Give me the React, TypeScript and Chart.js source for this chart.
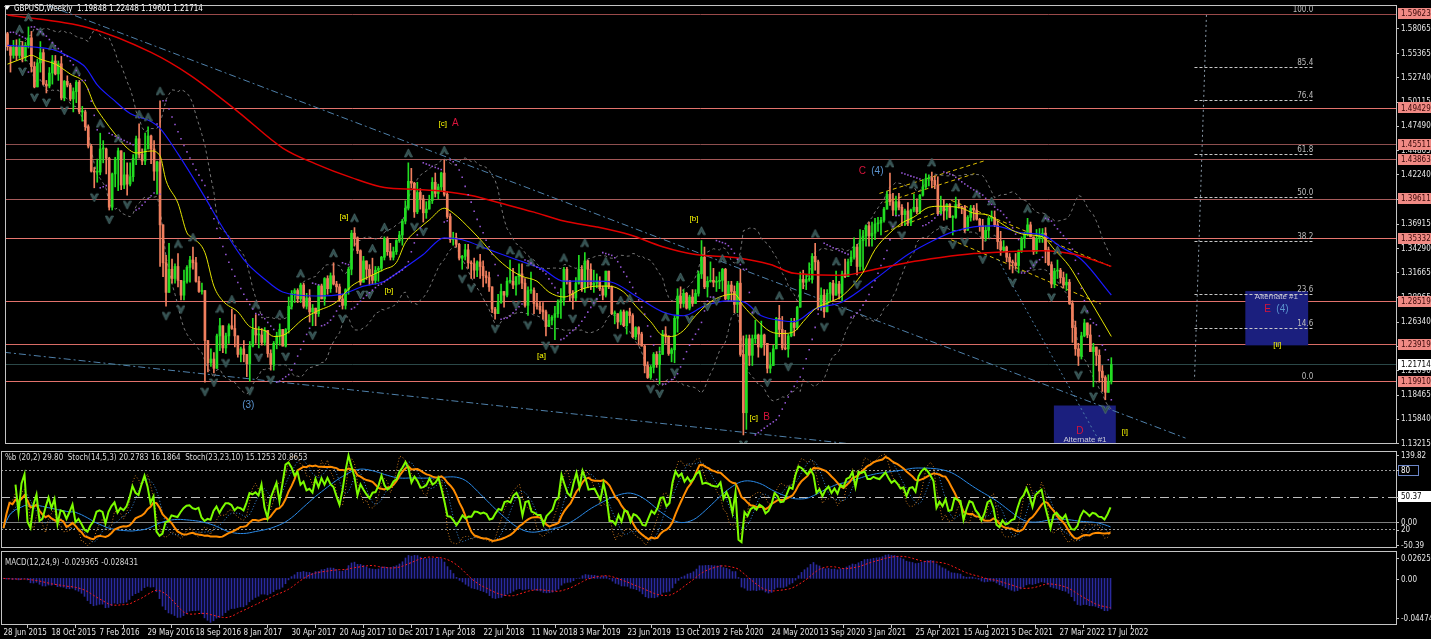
import React, { useEffect, useRef } from 'react';
import { Chart, registerables } from 'chart.js';

Chart.register(...registerables);

const NARROW = "'Liberation Sans Narrow', 'DejaVu Sans Condensed', 'Liberation Sans', Arial, sans-serif";
const SANS = "'Liberation Sans', 'DejaVu Sans', Arial, sans-serif";

// ---------------- DATA ----------------
const dateLabels = ['28 Jun 2015', '18 Oct 2015', '7 Feb 2016', '29 May 2016', '18 Sep 2016', '8 Jan 2017', '30 Apr 2017', '20 Aug 2017', '10 Dec 2017', '1 Apr 2018', '22 Jul 2018', '11 Nov 2018', '3 Mar 2019', '23 Jun 2019', '13 Oct 2019', '2 Feb 2020', '24 May 2020', '13 Sep 2020', '3 Jan 2021', '25 Apr 2021', '15 Aug 2021', '5 Dec 2021', '27 Mar 2022', '17 Jul 2022'];
const dateTickWeeks = [0, 16, 32, 48, 64, 80, 96, 112, 128, 144, 160, 176, 192, 208, 224, 240, 256, 272, 288, 304, 320, 336, 352, 368];

const firstOpen = 1.5745;
const closes = [
  1.5605, 1.5511, 1.5600, 1.5510, 1.5613, 1.5490, 1.5620, 1.5700, 1.5390, 1.5170,
  1.5430, 1.5540, 1.5200, 1.5180, 1.5320, 1.5450, 1.5310, 1.5420, 1.5050, 1.5230,
  1.5190, 1.5040, 1.5120, 1.5220, 1.4900, 1.4900, 1.4740, 1.4530, 1.4260, 1.4250,
  1.4250, 1.4500, 1.4500, 1.4400, 1.3870, 1.4230, 1.4390, 1.4480, 1.4110, 1.4220,
  1.4120, 1.4200, 1.4400, 1.4610, 1.4440, 1.4370, 1.4500, 1.4640, 1.4500, 1.4260,
  1.4360, 1.3680, 1.3270, 1.2950, 1.3200, 1.3100, 1.3230, 1.3080, 1.2920, 1.3070,
  1.3220, 1.3300, 1.3270, 1.3070, 1.2960, 1.2970, 1.2430, 1.2190, 1.2230, 1.2130,
  1.2480, 1.2590, 1.2350, 1.2480, 1.2590, 1.2560, 1.2480, 1.2280, 1.2340, 1.2280,
  1.2180, 1.2370, 1.2550, 1.2490, 1.2490, 1.2410, 1.2540, 1.2290, 1.2170, 1.2400,
  1.2480, 1.2550, 1.2370, 1.2550, 1.2800, 1.2940, 1.2970, 1.2880, 1.3030, 1.2800,
  1.2890, 1.2740, 1.2780, 1.2720, 1.3020, 1.2880, 1.3100, 1.2990, 1.3130, 1.3040,
  1.3010, 1.2880, 1.2810, 1.2980, 1.3200, 1.3590, 1.3540, 1.3400, 1.3060, 1.3290,
  1.3200, 1.3130, 1.3080, 1.3190, 1.3210, 1.3330, 1.3530, 1.3390, 1.3330, 1.3390,
  1.3510, 1.3570, 1.3720, 1.3860, 1.4150, 1.4130, 1.3820, 1.4030, 1.3960, 1.3810,
  1.3850, 1.3940, 1.4140, 1.4020, 1.4090, 1.4240, 1.4010, 1.3770, 1.3520, 1.3540,
  1.3470, 1.3320, 1.3340, 1.3410, 1.3270, 1.3260, 1.3190, 1.3280, 1.3230, 1.3130,
  1.3110, 1.3010, 1.2770, 1.2720, 1.2840, 1.2960, 1.2920, 1.3070, 1.3070, 1.3030,
  1.3120, 1.3150, 1.3050, 1.2810, 1.2970, 1.2970, 1.2830, 1.2800, 1.2760, 1.2740,
  1.2580, 1.2650, 1.2680, 1.2720, 1.2840, 1.2870, 1.3200, 1.3070, 1.2940, 1.2890,
  1.3050, 1.3200, 1.3000, 1.3290, 1.3200, 1.3030, 1.3050, 1.3070, 1.2990, 1.2920,
  1.3180, 1.3010, 1.2720, 1.2720, 1.2630, 1.2740, 1.2590, 1.2740, 1.2700, 1.2470,
  1.2570, 1.2500, 1.2370, 1.2160, 1.2030, 1.2140, 1.2280, 1.2170, 1.2280, 1.2500,
  1.2480, 1.2290, 1.2330, 1.2670, 1.2910, 1.2830, 1.2940, 1.2780, 1.2900, 1.2830,
  1.2940, 1.3150, 1.3330, 1.3010, 1.3070, 1.3080, 1.3060, 1.3070, 1.3080, 1.3200,
  1.2880, 1.3030, 1.2960, 1.2820, 1.3050, 1.2280, 1.1650, 1.2450, 1.2270, 1.2450,
  1.2490, 1.2360, 1.2490, 1.2400, 1.2130, 1.2160, 1.2340, 1.2670, 1.2550, 1.2350,
  1.2340, 1.2480, 1.2620, 1.2570, 1.2790, 1.3090, 1.3060, 1.3090, 1.3090, 1.3340,
  1.3280, 1.2790, 1.2920, 1.2740, 1.2940, 1.3050, 1.2920, 1.3040, 1.2940, 1.3150,
  1.3120, 1.3280, 1.3330, 1.3440, 1.3230, 1.3510, 1.3560, 1.3670, 1.3560, 1.3590,
  1.3690, 1.3700, 1.3730, 1.3850, 1.4010, 1.3930, 1.3840, 1.3930, 1.3870, 1.3790,
  1.3830, 1.3700, 1.3840, 1.3870, 1.3820, 1.4000, 1.4090, 1.4180, 1.4190, 1.4160,
  1.4110, 1.3800, 1.3880, 1.3830, 1.3900, 1.3760, 1.3760, 1.3900, 1.3880, 1.3870,
  1.3620, 1.3760, 1.3860, 1.3840, 1.3740, 1.3670, 1.3540, 1.3620, 1.3750, 1.3760,
  1.3680, 1.3500, 1.3410, 1.3440, 1.3330, 1.3280, 1.3270, 1.3240, 1.3400, 1.3530,
  1.3580, 1.3680, 1.3550, 1.3390, 1.3530, 1.3560, 1.3590, 1.3410, 1.3250, 1.3040,
  1.3180, 1.3190, 1.3110, 1.3030, 1.3060, 1.2830, 1.2570, 1.2340, 1.2260, 1.2480,
  1.2620, 1.2490, 1.2310, 1.2360, 1.2270, 1.2100, 1.2030, 1.1870, 1.19848, 1.21714,
];
const highs = [
  1.5760, 1.5580, 1.5673, 1.5680, 1.5690, 1.5660, 1.5650, 1.5818, 1.5770, 1.5440,
  1.5470, 1.5660, 1.5580, 1.5240, 1.5380, 1.5510, 1.5510, 1.5450, 1.5500, 1.5240,
  1.5290, 1.5210, 1.5160, 1.5240, 1.5240, 1.4960, 1.4920, 1.4760, 1.4550, 1.4300,
  1.4390, 1.4670, 1.4590, 1.4510, 1.4410, 1.4240, 1.4410, 1.4510, 1.4460, 1.4460,
  1.4350, 1.4350, 1.4440, 1.4640, 1.4770, 1.4500, 1.4670, 1.4740, 1.4650, 1.4590,
  1.4370, 1.5020, 1.3500, 1.3350, 1.3480, 1.3310, 1.3260, 1.3370, 1.3080, 1.3190,
  1.3240, 1.3340, 1.3440, 1.3330, 1.3120, 1.3050, 1.2970, 1.2390, 1.2340, 1.2300,
  1.2500, 1.2670, 1.2550, 1.2510, 1.2610, 1.2770, 1.2710, 1.2480, 1.2360, 1.2430,
  1.2280, 1.2420, 1.2670, 1.2710, 1.2580, 1.2560, 1.2570, 1.2490, 1.2330, 1.2420,
  1.2520, 1.2610, 1.2550, 1.2560, 1.2900, 1.2970, 1.2990, 1.2990, 1.3050, 1.3050,
  1.2940, 1.2980, 1.2820, 1.2750, 1.3030, 1.3040, 1.3110, 1.3130, 1.3160, 1.3270,
  1.3070, 1.3040, 1.2930, 1.2990, 1.3220, 1.3620, 1.3650, 1.3550, 1.3410, 1.3340,
  1.3260, 1.3250, 1.3320, 1.3230, 1.3230, 1.3340, 1.3550, 1.3550, 1.3480, 1.3440,
  1.3520, 1.3610, 1.3740, 1.3940, 1.4350, 1.4290, 1.4140, 1.4140, 1.4070, 1.4000,
  1.3930, 1.4000, 1.4190, 1.4240, 1.4120, 1.4250, 1.4380, 1.4040, 1.3800, 1.3600,
  1.3590, 1.3480, 1.3350, 1.3470, 1.3470, 1.3290, 1.3320, 1.3290, 1.3360, 1.3290,
  1.3180, 1.3170, 1.3000, 1.2790, 1.2930, 1.3040, 1.2950, 1.3110, 1.3300, 1.3210,
  1.3120, 1.3260, 1.3260, 1.3100, 1.3010, 1.3170, 1.3000, 1.2940, 1.2850, 1.2840,
  1.2760, 1.2710, 1.2700, 1.2800, 1.2870, 1.2990, 1.3220, 1.3220, 1.3080, 1.2970,
  1.3110, 1.3350, 1.3240, 1.3380, 1.3300, 1.3260, 1.3190, 1.3150, 1.3120, 1.3020,
  1.3180, 1.3170, 1.3020, 1.2750, 1.2710, 1.2760, 1.2760, 1.2750, 1.2780, 1.2720,
  1.2580, 1.2580, 1.2520, 1.2380, 1.2200, 1.2160, 1.2300, 1.2310, 1.2360, 1.2540,
  1.2580, 1.2480, 1.2350, 1.2700, 1.2990, 1.3010, 1.2980, 1.2950, 1.2920, 1.2980,
  1.2980, 1.3180, 1.3510, 1.3440, 1.3120, 1.3280, 1.3210, 1.3120, 1.3170, 1.3210,
  1.3210, 1.3070, 1.3070, 1.3020, 1.3070, 1.3200, 1.2480, 1.2490, 1.2490, 1.2490,
  1.2650, 1.2500, 1.2640, 1.2500, 1.2380, 1.2300, 1.2380, 1.2680, 1.2810, 1.2690,
  1.2540, 1.2500, 1.2670, 1.2670, 1.2800, 1.3170, 1.3190, 1.3140, 1.3270, 1.3370,
  1.3480, 1.3300, 1.3000, 1.2980, 1.2980, 1.3060, 1.3080, 1.3180, 1.3070, 1.3180,
  1.3310, 1.3310, 1.3400, 1.3540, 1.3470, 1.3630, 1.3620, 1.3680, 1.3710, 1.3710,
  1.3750, 1.3760, 1.3760, 1.3870, 1.4040, 1.4240, 1.4020, 1.3990, 1.4020, 1.3900,
  1.3850, 1.3920, 1.3850, 1.4010, 1.3960, 1.4010, 1.4170, 1.4230, 1.4220, 1.4250,
  1.4210, 1.4200, 1.3990, 1.3950, 1.3910, 1.3910, 1.3780, 1.3980, 1.3950, 1.3880,
  1.3890, 1.3780, 1.3890, 1.3890, 1.3910, 1.3750, 1.3740, 1.3670, 1.3770, 1.3830,
  1.3830, 1.3720, 1.3610, 1.3510, 1.3450, 1.3370, 1.3300, 1.3370, 1.3410, 1.3550,
  1.3600, 1.3750, 1.3710, 1.3550, 1.3630, 1.3640, 1.3640, 1.3650, 1.3440, 1.3280,
  1.3210, 1.3300, 1.3210, 1.3170, 1.3150, 1.3090, 1.2860, 1.2640, 1.2400, 1.2520,
  1.2660, 1.2600, 1.2600, 1.2400, 1.2330, 1.2330, 1.2160, 1.2050, 1.2060, 1.22448,
];
const lows = [
  1.5565, 1.5330, 1.5480, 1.5460, 1.5480, 1.5440, 1.5450, 1.5590, 1.5330, 1.5160,
  1.5170, 1.5330, 1.5190, 1.5105, 1.5160, 1.5200, 1.5300, 1.5240, 1.5030, 1.5020,
  1.5170, 1.5020, 1.4900, 1.5000, 1.4880, 1.4800, 1.4700, 1.4510, 1.4250, 1.4080,
  1.4140, 1.4220, 1.4350, 1.4230, 1.3840, 1.3840, 1.4090, 1.4050, 1.4060, 1.4070,
  1.4000, 1.4100, 1.4150, 1.4330, 1.4400, 1.4330, 1.4330, 1.4500, 1.4340, 1.4160,
  1.4010, 1.3230, 1.3120, 1.2800, 1.2950, 1.3050, 1.3050, 1.3010, 1.2870, 1.2870,
  1.3050, 1.3060, 1.3200, 1.3060, 1.2950, 1.2930, 1.1980, 1.2090, 1.2150, 1.2080,
  1.2130, 1.2320, 1.2300, 1.2290, 1.2400, 1.2550, 1.2360, 1.2250, 1.2200, 1.2200,
  1.2040, 1.1990, 1.2360, 1.2400, 1.2350, 1.2380, 1.2380, 1.2250, 1.2110, 1.2110,
  1.2340, 1.2380, 1.2370, 1.2360, 1.2510, 1.2770, 1.2840, 1.2840, 1.2840, 1.2780,
  1.2770, 1.2630, 1.2590, 1.2590, 1.2690, 1.2880, 1.2810, 1.2930, 1.2950, 1.3030,
  1.2950, 1.2850, 1.2770, 1.2770, 1.2930, 1.3140, 1.3450, 1.3370, 1.3030, 1.3070,
  1.3090, 1.3030, 1.3040, 1.3040, 1.3070, 1.3180, 1.3300, 1.3350, 1.3300, 1.3300,
  1.3360, 1.3490, 1.3460, 1.3690, 1.3840, 1.4080, 1.3760, 1.3800, 1.3850, 1.3710,
  1.3750, 1.3850, 1.3910, 1.3980, 1.3960, 1.4050, 1.3990, 1.3750, 1.3490, 1.3460,
  1.3440, 1.3300, 1.3200, 1.3300, 1.3210, 1.3100, 1.3100, 1.3120, 1.3100, 1.3010,
  1.3050, 1.2960, 1.2730, 1.2660, 1.2770, 1.2830, 1.2790, 1.2900, 1.3050, 1.2990,
  1.2920, 1.3040, 1.2990, 1.2790, 1.2700, 1.2940, 1.2720, 1.2770, 1.2720, 1.2660,
  1.2480, 1.2580, 1.2600, 1.2440, 1.2680, 1.2670, 1.2810, 1.3040, 1.2860, 1.2770,
  1.2860, 1.3040, 1.2960, 1.2950, 1.3000, 1.2980, 1.2950, 1.3000, 1.2970, 1.2870,
  1.2900, 1.2990, 1.2710, 1.2610, 1.2560, 1.2600, 1.2580, 1.2500, 1.2620, 1.2460,
  1.2440, 1.2380, 1.2370, 1.2080, 1.2020, 1.2010, 1.2080, 1.2140, 1.1960, 1.2280,
  1.2400, 1.2270, 1.2200, 1.2190, 1.2520, 1.2780, 1.2790, 1.2770, 1.2760, 1.2800,
  1.2830, 1.2910, 1.3100, 1.2990, 1.2900, 1.3060, 1.3010, 1.2960, 1.2990, 1.2960,
  1.2870, 1.2860, 1.2850, 1.2730, 1.2730, 1.2260, 1.1410, 1.1470, 1.2160, 1.2160,
  1.2400, 1.2250, 1.2350, 1.2270, 1.2080, 1.2080, 1.2160, 1.2340, 1.2470, 1.2330,
  1.2330, 1.2250, 1.2470, 1.2480, 1.2550, 1.2790, 1.2990, 1.2980, 1.3070, 1.3050,
  1.3190, 1.2760, 1.2760, 1.2680, 1.2750, 1.2850, 1.2860, 1.2920, 1.2880, 1.2850,
  1.3110, 1.3150, 1.3240, 1.3310, 1.3140, 1.3190, 1.3190, 1.3450, 1.3450, 1.3450,
  1.3520, 1.3610, 1.3570, 1.3710, 1.3850, 1.3890, 1.3780, 1.3780, 1.3840, 1.3670,
  1.3670, 1.3670, 1.3670, 1.3820, 1.3800, 1.3800, 1.3990, 1.4070, 1.4100, 1.4080,
  1.4070, 1.3790, 1.3800, 1.3730, 1.3740, 1.3760, 1.3570, 1.3750, 1.3860, 1.3800,
  1.3600, 1.3620, 1.3720, 1.3730, 1.3730, 1.3610, 1.3410, 1.3510, 1.3540, 1.3720,
  1.3660, 1.3420, 1.3350, 1.3390, 1.3280, 1.3200, 1.3160, 1.3200, 1.3160, 1.3380,
  1.3430, 1.3560, 1.3550, 1.3360, 1.3370, 1.3490, 1.3490, 1.3270, 1.3240, 1.3000,
  1.3000, 1.3100, 1.3050, 1.3000, 1.2970, 1.2820, 1.2410, 1.2270, 1.2160, 1.2230,
  1.2470, 1.2460, 1.2310, 1.1930, 1.2160, 1.1980, 1.1880, 1.1790, 1.1880, 1.19601,
];

// moving averages (week index, price)
const redMaWeeks = [0, 27, 48, 61, 77, 92, 103, 115, 126, 137, 146, 155, 165, 176, 186, 197, 208, 219, 230, 243, 255, 263, 279, 290, 301, 312, 323, 335, 346, 357, 369];
const redMaValues = [1.5948, 1.5810, 1.5543, 1.5298, 1.4904, 1.4510, 1.4339, 1.4190, 1.4083, 1.4062, 1.4041, 1.3998, 1.3913, 1.3817, 1.3721, 1.3657, 1.3572, 1.3444, 1.3359, 1.3327, 1.3252, 1.3156, 1.3135, 1.3199, 1.3273, 1.3327, 1.3369, 1.3391, 1.3401, 1.3359, 1.3231];
const blueMaWeeks = [0, 10, 16, 21, 26, 30, 35, 41, 48, 51, 57, 66, 71, 79, 86, 92, 103, 112, 119, 126, 132, 139, 146, 152, 161, 170, 179, 186, 197, 202, 210, 219, 226, 233, 241, 246, 252, 259, 263, 270, 279, 290, 301, 310, 316, 323, 330, 339, 346, 352, 359, 369];
const blueMaValues = [1.5618, 1.5597, 1.5565, 1.5490, 1.5384, 1.5192, 1.5043, 1.4883, 1.4797, 1.4723, 1.4446, 1.3977, 1.3700, 1.3305, 1.3092, 1.2954, 1.2911, 1.2932, 1.3018, 1.3071, 1.3199, 1.3359, 1.3540, 1.3519, 1.3412, 1.3305, 1.3199, 1.3071, 1.3071, 1.3060, 1.2911, 1.2740, 1.2698, 1.2804, 1.2858, 1.2847, 1.2698, 1.2644, 1.2634, 1.2772, 1.2847, 1.3092, 1.3359, 1.3519, 1.3604, 1.3657, 1.3668, 1.3593, 1.3572, 1.3444, 1.3305, 1.2922];
const yellowMaWeeks = [0, 6, 8, 11, 16, 21, 26, 29, 32, 36, 40, 43, 48, 51, 53, 57, 60, 62, 66, 69, 72, 77, 81, 86, 89, 92, 99, 103, 110, 115, 119, 126, 130, 133, 137, 141, 146, 149, 155, 159, 163, 168, 172, 177, 181, 186, 192, 197, 201, 206, 210, 215, 219, 222, 226, 230, 235, 239, 243, 246, 250, 255, 259, 263, 266, 270, 275, 279, 286, 290, 295, 299, 303, 308, 312, 319, 323, 328, 332, 337, 341, 346, 350, 355, 359, 363, 369];
const yellowMaValues = [1.5416, 1.5490, 1.5512, 1.5469, 1.5416, 1.5309, 1.5202, 1.4979, 1.4829, 1.4659, 1.4510, 1.4456, 1.4478, 1.4424, 1.4158, 1.3913, 1.3593, 1.3540, 1.3380, 1.3018, 1.2858, 1.2740, 1.2581, 1.2538, 1.2474, 1.2485, 1.2666, 1.2740, 1.2847, 1.3018, 1.3092, 1.3199, 1.3273, 1.3487, 1.3625, 1.3732, 1.3860, 1.3806, 1.3625, 1.3487, 1.3337, 1.3199, 1.3124, 1.3071, 1.2954, 1.2900, 1.2986, 1.3018, 1.3018, 1.2954, 1.2804, 1.2634, 1.2485, 1.2474, 1.2538, 1.2698, 1.2847, 1.2911, 1.2932, 1.2804, 1.2666, 1.2527, 1.2506, 1.2527, 1.2634, 1.2772, 1.2847, 1.2911, 1.3167, 1.3412, 1.3593, 1.3700, 1.3764, 1.3870, 1.3881, 1.3860, 1.3806, 1.3785, 1.3700, 1.3604, 1.3572, 1.3551, 1.3412, 1.3231, 1.3018, 1.2804, 1.2474];

const priceTicks = [1.58065, 1.55365, 1.5274, 1.50115, 1.4749, 1.44865, 1.4224, 1.39615, 1.36915, 1.3429, 1.31665, 1.28965, 1.2634, 1.23715, 1.2109, 1.18465, 1.1584, 1.13215];
const levelPrices = [1.59623, 1.49429, 1.45511, 1.43863, 1.39611, 1.35332, 1.28519, 1.23919, 1.1991];
const levelColors = ['#9a4a4a', '#e2736d', '#8e4f4f', '#a45858', '#a85c5c', '#e8766f', '#e2726c', '#d86c66', '#e2726c'];
const lastPrice = 1.21714;

const fibLow = 1.1991;
const fibHigh = 1.59623;
const fibLevels = [0, 14.6, 23.6, 38.2, 50, 61.8, 76.4, 85.4, 100];

// trend / channel lines: [week0, price0, week1, price1]
const blueTrendLines = [
  [13.2, 1.6055, 393.8, 1.13761],
  [-1.17, 1.23034, 282.2, 1.13122],
];
const steepDottedLine = [331.2, 1.33052, 365.5, 1.13122];
const yellowChannel = [
  [291.5, 1.40193, 326.5, 1.4371],
  [293.2, 1.39234, 323.2, 1.42325],
  [293.2, 1.36036, 315.5, 1.38701],
  [315.5, 1.39447, 368.8, 1.32306],
  [315.5, 1.35184, 365.5, 1.28256],
];
const fibTrendLine = [400.8, 1.5948, 396.8, 1.2005];

const YELLOW = '#ffff00';
const CRIMSON = '#d8143c';
const STEEL = '#5a93cf';
const notes = [
  { w: 145.5, p: 1.4776, t: '[c]', c: YELLOW, s: 8 },
  { w: 149.7, p: 1.4776, t: 'A', c: CRIMSON, s: 10 },
  { w: 112.5, p: 1.3764, t: '[a]', c: YELLOW, s: 8 },
  { w: 127.5, p: 1.2964, t: '[b]', c: YELLOW, s: 8 },
  { w: 178.5, p: 1.2261, t: '[a]', c: YELLOW, s: 8 },
  { w: 229.5, p: 1.3742, t: '[b]', c: YELLOW, s: 8 },
  { w: 249.5, p: 1.16, t: '[c]', c: YELLOW, s: 8 },
  { w: 253.8, p: 1.16, t: 'B', c: CRIMSON, s: 10 },
  { w: 285.8, p: 1.4254, t: 'C', c: CRIMSON, s: 10 },
  { w: 290.8, p: 1.4254, t: '(4)', c: STEEL, s: 10 },
  { w: 80.5, p: 1.1728, t: '(3)', c: STEEL, s: 10 },
  { w: 424.5, p: 1.2386, t: '[ii]', c: YELLOW, s: 8 },
  { w: 373.5, p: 1.144, t: '[i]', c: YELLOW, s: 8 },
  { w: 424.2, p: 1.2905, t: 'Alternate #1', c: '#c8c8d8', s: 8 },
  { w: 421.2, p: 1.2767, t: 'E', c: CRIMSON, s: 10 },
  { w: 426.2, p: 1.2767, t: '(4)', c: STEEL, s: 10 },
  { w: 358.5, p: 1.145, t: 'D', c: CRIMSON, s: 10 },
  { w: 360.2, p: 1.1354, t: 'Alternate #1', c: '#c8c8d8', s: 8 },
];
// boxes: [week0, price0, week1, price1]
const navyBoxes = [
  [413.8, 1.29641, 434.8, 1.23779],
  [349.8, 1.1728, 370.5, 1.128],
];

const headerText = 'GBPUSD,Weekly  1.19848 1.22448 1.19601 1.21714';
const oscText = '%b (20,2) 29.80  Stoch(14,5,3) 20.2783 16.1864  Stoch(23,23,10) 15.1253 20.8653';
const macdText = 'MACD(12,24,9) -0.029365 -0.028431';

// ---------------- LAYOUT CONSTANTS ----------------
const X_MIN = -0.8333;
const X_MAX = 464.1667;
const P_MIN = 1.13122;
const P_MAX = 1.6055;
const B_MIN = -50.39;
const B_MAX = 139.82;
const M_MIN = -0.044743;
const M_MAX = 0.026251;

const UP = '#22dd22';
const DOWN = '#f07f5e';

// ---------------- INDICATORS (computed from the price arrays) ----------------
function prepared() {
  const opens = closes.map((c, i) => (i === 0 ? firstOpen : closes[i - 1]));
  const hi = highs.map((h, i) => Math.max(h, opens[i], closes[i]));
  const lo = lows.map((l, i) => Math.min(l, opens[i], closes[i]));
  return { opens, hi, lo };
}

function bollinger(period: number, mult: number, minCount: number) {
  const up: (number | null)[] = [];
  const dn: (number | null)[] = [];
  const pb: (number | null)[] = [];
  for (let i = 0; i < closes.length; i++) {
    const s = Math.max(0, i - period + 1);
    const win = closes.slice(s, i + 1);
    if (win.length < minCount) { up.push(null); dn.push(null); pb.push(null); continue; }
    const m = win.reduce((a, b) => a + b, 0) / win.length;
    const sd = Math.sqrt(win.reduce((a, b) => a + (b - m) * (b - m), 0) / win.length);
    up.push(m + mult * sd);
    dn.push(m - mult * sd);
    pb.push(sd > 0 ? ((closes[i] - (m - mult * sd)) / (2 * mult * sd)) * 100 : 50);
  }
  return { up, dn, pb };
}

function smaArr(arr: number[], n: number) {
  return arr.map((_, i) => {
    const s = Math.max(0, i - n + 1);
    let sum = 0;
    for (let j = s; j <= i; j++) sum += arr[j];
    return sum / (i - s + 1);
  });
}

function stoch(hi: number[], lo: number[], k: number, d: number, slow: number) {
  const num: number[] = [];
  const den: number[] = [];
  for (let i = 0; i < closes.length; i++) {
    let hh = -Infinity, ll = Infinity;
    for (let j = Math.max(0, i - k + 1); j <= i; j++) { hh = Math.max(hh, hi[j]); ll = Math.min(ll, lo[j]); }
    num.push(closes[i] - ll);
    den.push(hh - ll);
  }
  const main = num.map((_, i) => {
    let a = 0, b = 0;
    for (let j = Math.max(0, i - slow + 1); j <= i; j++) { a += num[j]; b += den[j]; }
    return b > 0 ? (a / b) * 100 : 50;
  });
  return { main, sig: smaArr(main, d) };
}

function ema(arr: number[], n: number) {
  const k = 2 / (n + 1);
  const out: number[] = [];
  let e = arr[0];
  arr.forEach((v, i) => { e = i === 0 ? v : e + k * (v - e); out.push(e); });
  return out;
}

function psar(hi: number[], lo: number[], step: number, maxAf: number) {
  const out: (number | null)[] = [null];
  let up = false, af = step, ep = lo[0], sar = hi[0];
  for (let i = 1; i < hi.length; i++) {
    sar = sar + af * (ep - sar);
    if (up) {
      sar = Math.min(sar, lo[i - 1], i > 1 ? lo[i - 2] : lo[i - 1]);
      if (lo[i] < sar) { up = false; sar = ep; ep = lo[i]; af = step; }
      else if (hi[i] > ep) { ep = hi[i]; af = Math.min(af + step, maxAf); }
    } else {
      sar = Math.max(sar, hi[i - 1], i > 1 ? hi[i - 2] : hi[i - 1]);
      if (hi[i] > sar) { up = true; sar = ep; ep = hi[i]; af = step; }
      else if (lo[i] < ep) { ep = lo[i]; af = Math.min(af + step, maxAf); }
    }
    out.push(sar);
  }
  return out;
}

function fractals(hi: number[], lo: number[]) {
  const ups: { x: number; y: number }[] = [];
  const dns: { x: number; y: number }[] = [];
  for (let i = 2; i < hi.length - 2; i++) {
    if (hi[i] > hi[i - 1] && hi[i] > hi[i - 2] && hi[i] >= hi[i + 1] && hi[i] >= hi[i + 2]) ups.push({ x: i, y: hi[i] });
    if (lo[i] < lo[i - 1] && lo[i] < lo[i - 2] && lo[i] <= lo[i + 1] && lo[i] <= lo[i + 2]) dns.push({ x: i, y: lo[i] });
  }
  return { ups, dns };
}

function arrowImage(up: boolean) {
  const c = document.createElement('canvas');
  c.width = 9; c.height = 34;
  const g = c.getContext('2d') as CanvasRenderingContext2D;
  g.fillStyle = '#2f4d4d';
  g.strokeStyle = '#557676';
  g.lineWidth = 0.7;
  g.beginPath();
  if (up) {
    g.moveTo(0.5, 11); g.lineTo(4.5, 3); g.lineTo(8.5, 11); g.lineTo(6.5, 11); g.lineTo(4.5, 7.5); g.lineTo(2.5, 11);
  } else {
    g.moveTo(0.5, 23); g.lineTo(4.5, 31); g.lineTo(8.5, 23); g.lineTo(6.5, 23); g.lineTo(4.5, 26.5); g.lineTo(2.5, 23);
  }
  g.closePath(); g.fill(); g.stroke();
  return c;
}

// ---------------- DRAW HELPERS ----------------
function hline(ctx: CanvasRenderingContext2D, a: any, y: number, color: string, dash: number[]) {
  const yy = Math.round(y) + 0.5;
  ctx.save();
  ctx.strokeStyle = color; ctx.lineWidth = 1; ctx.setLineDash(dash);
  ctx.beginPath(); ctx.moveTo(a.left, yy); ctx.lineTo(a.right, yy); ctx.stroke();
  ctx.restore();
}

function frame(ctx: CanvasRenderingContext2D, a: any) {
  ctx.save();
  ctx.strokeStyle = '#c4c4c4'; ctx.lineWidth = 1;
  ctx.strokeRect(Math.round(a.left) + 0.5, Math.round(a.top) + 0.5, Math.round(a.right - a.left), Math.round(a.bottom - a.top) - 1);
  ctx.restore();
}

function sideLabel(ctx: CanvasRenderingContext2D, a: any, y: number, text: string, fg: string, bg?: string, border?: string, tick = true) {
  ctx.save();
  const x0 = Math.round(a.right) + 2;
  if (bg) { ctx.fillStyle = bg; ctx.fillRect(x0, Math.round(y - 5.5), 33, 11); }
  if (border) { ctx.strokeStyle = border; ctx.lineWidth = 1; ctx.strokeRect(x0 + 0.5, Math.round(y - 5.5) + 0.5, 20, 10); }
  if (tick) {
    ctx.strokeStyle = '#c4c4c4'; ctx.lineWidth = 1;
    ctx.beginPath(); ctx.moveTo(a.right, Math.round(y) + 0.5); ctx.lineTo(a.right + 3, Math.round(y) + 0.5); ctx.stroke();
  }
  ctx.font = `8px ${NARROW}`; ctx.textAlign = 'left'; ctx.textBaseline = 'middle';
  ctx.fillStyle = fg;
  ctx.fillText(text, x0 + 3, y + 0.5);
  ctx.restore();
}

function seg(l: number[]) {
  return [{ x: l[0], y: l[1] }, { x: l[2], y: l[3] }];
}
function pts(ws: number[], vs: number[]) {
  return ws.map((w, i) => ({ x: w, y: vs[i] }));
}
function series(vals: (number | null)[]) {
  const out: { x: number; y: number }[] = [];
  vals.forEach((v, i) => { if (v !== null) out.push({ x: i, y: v }); });
  return out;
}
const noPad = (s: any) => { s.paddingTop = 0; s.paddingBottom = 0; s.paddingLeft = 0; s.paddingRight = 0; };

const xHidden = { type: 'linear', min: X_MIN, max: X_MAX, display: false, offset: false };
const baseOptions = {
  responsive: false,
  animation: false,
  devicePixelRatio: 1,
  events: [],
  plugins: { legend: { display: false }, tooltip: { enabled: false } },
};
const rightAxis = (min: number, max: number) => ({
  type: 'linear', position: 'right', min, max,
  afterFit: (s: any) => { s.width = 35; noPad(s); },
  ticks: { display: false }, grid: { display: false }, border: { display: false },
});

export default function App() {
  const mainRef = useRef<HTMLCanvasElement>(null);
  const oscRef = useRef<HTMLCanvasElement>(null);
  const macdRef = useRef<HTMLCanvasElement>(null);

  useEffect(() => {
    document.body.style.margin = '0';
    document.body.style.background = '#000';
    Chart.defaults.font.family = NARROW;

    const { opens, hi, lo } = prepared();
    const bb = bollinger(20, 2, 5);
    const s1 = stoch(hi, lo, 14, 5, 3);
    const s2 = stoch(hi, lo, 23, 23, 10);
    const e12 = ema(closes, 12);
    const e24 = ema(closes, 24);
    const macd = e12.map((v, i) => v - e24[i]);
    const macdSig = smaArr(macd, 9);
    const sar = psar(hi, lo, 0.02, 0.2);
    const fr = fractals(hi, lo);
    const isUp = closes.map((c, i) => c >= opens[i]);
    const candleColors = isUp.map((u) => (u ? UP : DOWN));

    const charts: Chart[] = [];

    // ---------- MAIN PRICE CHART ----------
    const mainPlugin = {
      id: 'mainDecor',
      beforeDatasetsDraw(chart: any) {
        const { ctx, chartArea: a, scales } = chart;
        const xs = scales.x, ys = scales.y;
        ctx.save();
        ctx.beginPath(); ctx.rect(a.left, a.top, a.right - a.left, a.bottom - a.top); ctx.clip();
        levelPrices.forEach((v, i) => hline(ctx, a, ys.getPixelForValue(v), levelColors[i], []));
        hline(ctx, a, ys.getPixelForValue(lastPrice), '#2b4848', []);
        ctx.fillStyle = '#1b1f7e';
        navyBoxes.forEach((b) => {
          const x0 = xs.getPixelForValue(b[0]), x1 = xs.getPixelForValue(b[2]);
          const y0 = ys.getPixelForValue(b[1]), y1 = ys.getPixelForValue(b[3]);
          ctx.fillRect(x0, y0, x1 - x0, y1 - y0);
        });
        const fx0 = xs.getPixelForValue(396.8), fx1 = xs.getPixelForValue(436.5);
        fibLevels.forEach((lv) => {
          const price = fibLow + (lv / 100) * (fibHigh - fibLow);
          const y = Math.round(ys.getPixelForValue(price)) + 0.5;
          if (lv > 0 && lv < 100) {
            ctx.save(); ctx.strokeStyle = '#c8c8c8'; ctx.setLineDash([3, 2]); ctx.lineWidth = 1;
            ctx.beginPath(); ctx.moveTo(fx0, y); ctx.lineTo(fx1, y); ctx.stroke(); ctx.restore();
          }
          ctx.font = `8px ${NARROW}`; ctx.fillStyle = '#bdbdbd'; ctx.textAlign = 'right'; ctx.textBaseline = 'bottom';
          ctx.fillText(lv.toFixed(1), fx1, y - 1);
        });
        ctx.restore();
      },
      afterDatasetsDraw(chart: any) {
        const { ctx, chartArea: a, scales } = chart;
        const xs = scales.x, ys = scales.y;
        ctx.save();
        ctx.beginPath(); ctx.rect(a.left, a.top, a.right - a.left, a.bottom - a.top); ctx.clip();
        notes.forEach((n) => {
          ctx.font = `${n.s}px ${SANS}`;
          ctx.fillStyle = n.c; ctx.textAlign = 'center'; ctx.textBaseline = 'middle';
          ctx.fillText(n.t, xs.getPixelForValue(n.w), ys.getPixelForValue(n.p));
        });
        ctx.restore();
        ctx.save();
        ctx.fillStyle = '#ffffff';
        ctx.beginPath(); ctx.moveTo(4, 6); ctx.lineTo(10, 6); ctx.lineTo(7, 10); ctx.closePath(); ctx.fill();
        ctx.font = `8px ${NARROW}`; ctx.textAlign = 'left'; ctx.textBaseline = 'middle';
        ctx.fillText(headerText, 14, 8.5);
        ctx.restore();
        frame(ctx, a);
        priceTicks.forEach((v) => sideLabel(ctx, a, ys.getPixelForValue(v), v.toFixed(5), '#e6e6e6'));
        levelPrices.forEach((v) => sideLabel(ctx, a, ys.getPixelForValue(v), v.toFixed(5), '#3a0808', '#f08a84', undefined, false));
        sideLabel(ctx, a, ys.getPixelForValue(lastPrice), lastPrice.toFixed(5), '#000000', '#ffffff', undefined, false);
      },
    };

    const lineDs = (data: any[], color: string, width: number, dash: number[], order: number, tension = 0) => ({
      type: 'line', data, borderColor: color, borderWidth: width, borderDash: dash, pointRadius: 0,
      fill: false, order, tension, cubicInterpolationMode: tension > 0 ? 'monotone' : 'default',
    });

    const upImg = arrowImage(true);
    const dnImg = arrowImage(false);

    const mainDatasets: any[] = [
      lineDs(series(bb.up), '#767676', 1, [3, 3], 6),
      lineDs(series(bb.dn), '#767676', 1, [3, 3], 6),
      ...blueTrendLines.map((l) => lineDs(seg(l), '#4f80aa', 1, [7, 3, 2, 3], 6)),
      lineDs(seg(steepDottedLine), '#4f80aa', 1, [2, 3], 6),
      ...yellowChannel.map((l) => lineDs(seg(l), '#e0c000', 1, [4, 3], 6)),
      lineDs(seg(fibTrendLine), '#8a9aaa', 1, [2, 3], 6),
      {
        type: 'bar', data: hi.map((h, i) => ({ x: i, y: [lo[i], h] })), backgroundColor: candleColors,
        barThickness: 1, grouped: false, order: 5,
      },
      {
        type: 'bar', data: closes.map((c, i) => ({ x: i, y: [Math.min(opens[i], c), Math.max(opens[i], c)] })),
        backgroundColor: candleColors, barThickness: 2, grouped: false, minBarLength: 1, order: 4,
      },
      lineDs(pts(redMaWeeks, redMaValues), '#e00000', 1.5, [], 2, 0.4),
      lineDs(pts(blueMaWeeks, blueMaValues), '#1a1aff', 1.2, [], 2, 0.4),
      lineDs(pts(yellowMaWeeks, yellowMaValues), '#e6e600', 1, [], 1, 0.4),
      {
        type: 'line', data: series(sar), showLine: false, pointStyle: 'rect', pointRadius: 1.1,
        pointBackgroundColor: '#9656d6', pointBorderWidth: 0, order: 0,
      },
      { type: 'line', data: fr.ups, showLine: false, pointStyle: upImg, pointRadius: 4, order: 0 },
      { type: 'line', data: fr.dns, showLine: false, pointStyle: dnImg, pointRadius: 4, order: 0 },
    ];

    if (mainRef.current) {
      charts.push(new Chart(mainRef.current, {
        type: 'bar',
        data: { datasets: mainDatasets },
        options: {
          ...baseOptions,
          layout: { padding: { left: 1, top: 2, right: 0, bottom: 2 } },
          scales: { x: xHidden, y: rightAxis(P_MIN, P_MAX) },
        } as any,
        plugins: [mainPlugin],
      } as any));
    }

    // ---------- OSCILLATOR PANEL ----------
    const oscPlugin = {
      id: 'oscDecor',
      beforeDatasetsDraw(chart: any) {
        const { ctx, chartArea: a, scales } = chart;
        hline(ctx, a, scales.yb.getPixelForValue(0), '#7e7e7e', []);
        hline(ctx, a, scales.ys.getPixelForValue(80), '#9a9a9a', [2, 2]);
        hline(ctx, a, scales.ys.getPixelForValue(20), '#9a9a9a', [2, 2]);
        hline(ctx, a, scales.yb.getPixelForValue(50.37), '#bdbdbd', [9, 4, 2, 4]);
      },
      afterDatasetsDraw(chart: any) {
        const { ctx, chartArea: a, scales } = chart;
        ctx.save();
        ctx.font = `8px ${NARROW}`; ctx.fillStyle = '#d8d8d8'; ctx.textAlign = 'left'; ctx.textBaseline = 'middle';
        ctx.fillText(oscText, 5, 8.5);
        ctx.restore();
        frame(ctx, a);
        sideLabel(ctx, a, a.top + 4, B_MAX.toFixed(2), '#e6e6e6');
        sideLabel(ctx, a, scales.ys.getPixelForValue(80), '80', '#ffffff', '#000000', '#6c86c8');
        sideLabel(ctx, a, scales.yb.getPixelForValue(50.37), '50.37', '#000000', '#ffffff');
        sideLabel(ctx, a, scales.yb.getPixelForValue(0), '0.00', '#e6e6e6');
        sideLabel(ctx, a, scales.ys.getPixelForValue(20) + 1, '20', '#e6e6e6');
        sideLabel(ctx, a, a.bottom - 3, B_MIN.toFixed(2), '#e6e6e6');
      },
    };

    if (oscRef.current) {
      charts.push(new Chart(oscRef.current, {
        type: 'line',
        data: {
          datasets: [
            { ...lineDs(series(s1.sig), '#3c8cdc', 1, [1, 2], 4), yAxisID: 'ys' },
            { ...lineDs(series(s1.main), '#c8781e', 1, [1, 2], 3), yAxisID: 'ys' },
            { ...lineDs(series(s2.sig), '#2a8ae8', 1, [], 2), yAxisID: 'ys' },
            { ...lineDs(series(s2.main), '#ff8c00', 2, [], 1), yAxisID: 'ys' },
            { ...lineDs(series(bb.pb), '#7cfc00', 2, [], 0), yAxisID: 'yb' },
          ],
        },
        options: {
          ...baseOptions,
          layout: { padding: { left: 1, top: 2, right: 0, bottom: 1 } },
          scales: {
            x: xHidden,
            yb: rightAxis(B_MIN, B_MAX),
            ys: { type: 'linear', display: false, min: 0, max: 100 },
          },
        } as any,
        plugins: [oscPlugin],
      } as any));
    }

    // ---------- MACD PANEL ----------
    const macdPlugin = {
      id: 'macdDecor',
      afterDatasetsDraw(chart: any) {
        const { ctx, chartArea: a, scales } = chart;
        ctx.save();
        ctx.font = `8px ${NARROW}`; ctx.fillStyle = '#d8d8d8'; ctx.textAlign = 'left'; ctx.textBaseline = 'middle';
        ctx.fillText(macdText, 5, 13.5);
        ctx.restore();
        frame(ctx, a);
        sideLabel(ctx, a, a.top + 7, M_MAX.toFixed(6), '#e6e6e6');
        sideLabel(ctx, a, scales.y.getPixelForValue(0) + 1, '0.00', '#e6e6e6');
        sideLabel(ctx, a, a.bottom - 7, M_MIN.toFixed(6), '#e6e6e6');
      },
    };

    if (macdRef.current) {
      charts.push(new Chart(macdRef.current, {
        type: 'bar',
        data: {
          datasets: [
            { type: 'line', data: series(macdSig), borderColor: '#ff1a1a', borderWidth: 1, borderDash: [2, 2], pointRadius: 0, order: 0 },
            { type: 'bar', data: macd.map((v, i) => ({ x: i, y: v })), backgroundColor: '#2a2a9e', barThickness: 1, grouped: false, order: 1 },
          ],
        },
        options: {
          ...baseOptions,
          layout: { padding: { left: 1, top: 2, right: 0, bottom: 0 } },
          scales: {
            x: {
              type: 'linear', min: X_MIN, max: X_MAX, offset: false, position: 'bottom',
              afterFit: (s: any) => { s.height = 14; noPad(s); },
              afterBuildTicks: (ax: any) => { ax.ticks = dateTickWeeks.map((v) => ({ value: v })); },
              ticks: {
                color: '#e6e6e6', font: { family: NARROW, size: 8 }, padding: 0, autoSkip: false,
                maxRotation: 0, minRotation: 0, align: 'start',
                callback: (v: any) => dateLabels[dateTickWeeks.indexOf(Number(v))] || '',
              },
              grid: { drawOnChartArea: false, drawTicks: true, tickLength: 3, color: '#c4c4c4' },
              border: { display: false },
            },
            y: rightAxis(M_MIN, M_MAX),
          },
        } as any,
        plugins: [macdPlugin],
      } as any));
    }

    return () => { charts.forEach((c) => c.destroy()); };
  }, []);

  return (
    <div style={{ position: 'relative', width: 1431, height: 639, background: '#000', overflow: 'hidden' }}>
      <canvas ref={mainRef} width={1431} height={449} style={{ position: 'absolute', left: 0, top: 0 }} />
      <canvas ref={oscRef} width={1431} height={100} style={{ position: 'absolute', left: 0, top: 449 }} />
      <canvas ref={macdRef} width={1431} height={90} style={{ position: 'absolute', left: 0, top: 549 }} />
    </div>
  );
}
